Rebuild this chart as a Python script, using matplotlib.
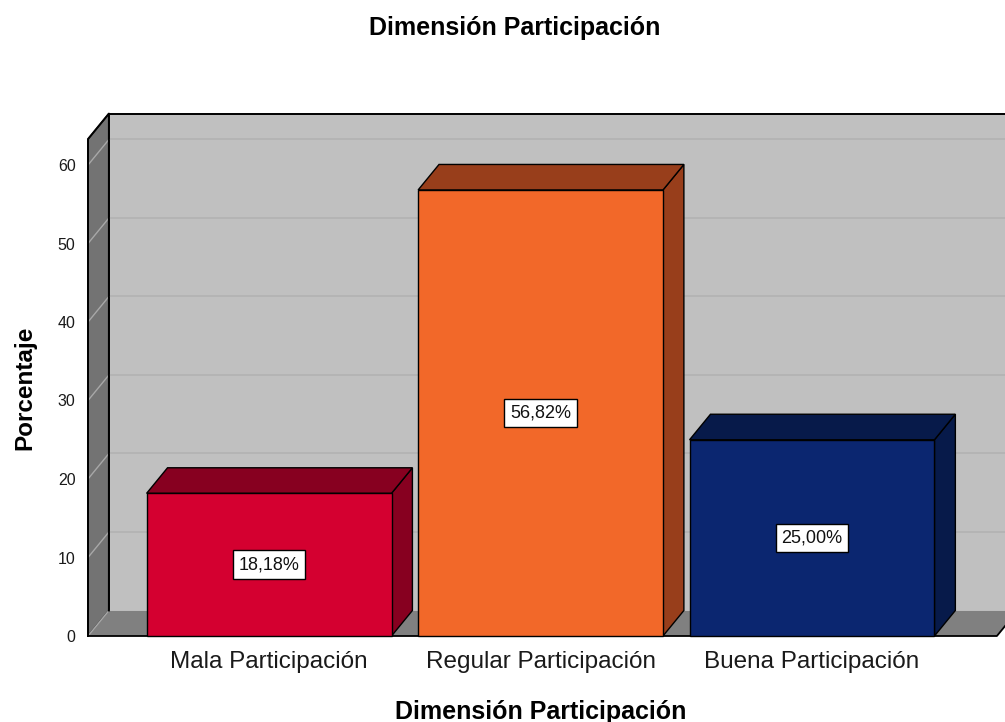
import matplotlib.pyplot as plt
from matplotlib.patches import Polygon

plt.rcParams["font.family"] = ["Liberation Sans", "DejaVu Sans"]

# data
categories = ["Mala Participación", "Regular Participación", "Buena Participación"]
porcentajes = [18.18, 56.82, 25.00]
front_colors = ["#d40030", "#f26829", "#0b2670"]
shade_colors = ["#870020", "#983e1b", "#071a4a"]
y_ticks = [0, 10, 20, 30, 40, 50, 60]
titulo = "Dimensión Participación"

# 3d box geometry (data units)
bar_w = 0.902
dx, dy = 0.077, 3.25
x_left, x_right = -0.667, 2.681
y_top = 63.3


def face(ax, pts, fc, ec="black", lw=1.0, z=1):
    ax.add_patch(Polygon(pts, closed=True, facecolor=fc, edgecolor=ec,
                         linewidth=lw, zorder=z, clip_on=False, joinstyle="miter"))


fig = plt.figure(figsize=(10.05, 7.22), dpi=100)
ax = fig.add_axes([88 / 1005, 86 / 722, 917 / 1005, 536 / 722])
ax.set_xlim(x_left, (1005 - 269) / 271.5)
ax.set_ylim(0, 536 / 7.85)
for s in ax.spines.values():
    s.set_visible(False)
ax.patch.set_visible(False)

# back wall
face(ax, [(x_left + dx, dy), (x_right + dx + 0.2, dy), (x_right + dx + 0.2, y_top + dy),
          (x_left + dx, y_top + dy)], "#c0c0c0", ec="none", z=1)
for v in y_ticks[1:]:
    ax.plot([x_left + dx, x_right + dx + 0.2], [v + dy, v + dy], color="#b2b2b2",
            lw=1.2, zorder=2, clip_on=False)
ax.plot([x_left + dx, x_right + dx + 0.2], [y_top + dy, y_top + dy], color="black",
        lw=1.4, zorder=3, clip_on=False)
ax.plot([x_left + dx, x_left + dx], [dy, y_top + dy], color="black", lw=1.4, zorder=3)

# left wall
face(ax, [(x_left, 0), (x_left + dx, dy), (x_left + dx, y_top + dy), (x_left, y_top)],
     "#737373", ec="#303030", lw=1.2, z=4)
for v in y_ticks:
    ax.plot([x_left, x_left + dx], [v, v + dy], color="#a8a8a8", lw=1.0, zorder=5,
            clip_on=False)
ax.plot([x_left, x_left, x_left + dx, x_left + dx], [0, y_top, y_top + dy, dy],
        color="black", lw=1.4, zorder=6, clip_on=False)

# floor
face(ax, [(x_left, 0), (x_right, 0), (x_right + dx, dy), (x_left + dx, dy)],
     "#808080", ec="none", z=4)
ax.plot([x_left, x_right, x_right + dx], [0, 0, dy], color="black", lw=1.3, zorder=6,
        clip_on=False)

# bars
for i, (v, fc, sc) in enumerate(zip(porcentajes, front_colors, shade_colors)):
    x0, x1 = i - bar_w / 2, i + bar_w / 2
    face(ax, [(x1, 0), (x1 + dx, dy), (x1 + dx, v + dy), (x1, v)], sc, z=7)
    face(ax, [(x0, v), (x1, v), (x1 + dx, v + dy), (x0 + dx, v + dy)], sc, z=7)
    face(ax, [(x0, 0), (x1, 0), (x1, v), (x0, v)], fc, z=8)
    ax.text(i, v / 2, f"{v:.2f}%".replace(".", ","), ha="center", va="center",
            fontsize=13, color="#111111", zorder=9,
            bbox=dict(boxstyle="square,pad=0.32", facecolor="white",
                      edgecolor="black", linewidth=1.0))

ax.set_yticks(y_ticks)
ax.set_yticklabels([str(t) for t in y_ticks], fontsize=11.5, color="#1a1a1a")
ax.set_xticks(range(len(categories)))
ax.set_xticklabels(categories, fontsize=17.5, color="#1a1a1a")
ax.tick_params(axis="y", length=0, pad=9)
ax.tick_params(axis="x", length=0, pad=11)

fig.text(515 / 1005, 1 - 28 / 722, titulo, ha="center", va="center",
         fontsize=18, fontweight="bold")
fig.text(541 / 1005, 1 - 712 / 722, titulo, ha="center", va="center",
         fontsize=18, fontweight="bold")
fig.text(25 / 1005, 1 - 388 / 722, "Porcentaje", ha="center", va="center",
         rotation=90, fontsize=17.5, fontweight="bold")

fig.savefig("out.png", dpi=100)
